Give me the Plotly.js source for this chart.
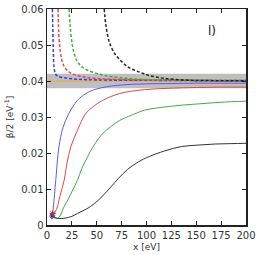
<!DOCTYPE html>
<html><head><meta charset="utf-8">
<script src="https://cdn.plot.ly/plotly-3.0.1.min.js"></script>
<style>html,body{margin:0;padding:0;background:#fff}#c{width:262px;height:255px}</style>
</head><body><div id="c"></div>
<script>
// solid curves
const blueX = [4.6, 5.2, 6.4, 8.8, 12, 16, 22, 30.6, 39, 47.5, 60, 75, 98, 125, 150, 175, 200];
const blueY = [0.0016, 0.0025, 0.005, 0.0124, 0.0217, 0.027, 0.031, 0.0346, 0.0365, 0.0376, 0.0384, 0.0389, 0.0392, 0.0393, 0.0394, 0.0394, 0.0394];
const redX = [5.5, 7, 8.5, 10.4, 13, 17.2, 20, 23.9, 30.6, 39, 47, 55.9, 72.7, 98, 125, 150, 175, 200];
const redY = [0.0032, 0.0032, 0.0038, 0.005, 0.008, 0.0124, 0.017, 0.0217, 0.0263, 0.031, 0.033, 0.0346, 0.0365, 0.0376, 0.038, 0.0382, 0.0383, 0.0383];
const greenX = [6.5, 8, 10, 13, 17, 22, 26, 30.6, 35, 40.7, 48, 55.9, 65, 72.7, 85, 98, 125, 150, 175, 200];
const greenY = [0.0025, 0.002, 0.0018, 0.0025, 0.005, 0.0075, 0.0098, 0.0124, 0.0157, 0.0189, 0.0225, 0.0254, 0.0275, 0.029, 0.0305, 0.0319, 0.033, 0.0336, 0.0341, 0.0344];
const blackX = [5, 8, 12, 18, 25, 30.6, 40, 47.5, 55, 64.3, 72, 81.2, 90, 100, 118.5, 135.4, 152, 169, 185, 200];
const blackY = [0.003, 0.0021, 0.0018, 0.0019, 0.0024, 0.0032, 0.0045, 0.0059, 0.0078, 0.0106, 0.013, 0.0155, 0.0172, 0.0187, 0.0206, 0.0218, 0.0222, 0.0225, 0.0226, 0.0227];
// dashed curves
const blueDX = [5.4, 5.8, 6.2, 6.6, 7.2, 8.5, 10.4, 15, 20, 30.6, 50, 100, 150, 200];
const blueDY = [0.06, 0.055, 0.05, 0.046, 0.0435, 0.042, 0.0414, 0.041, 0.0408, 0.0405, 0.0403, 0.0402, 0.0401, 0.0401];
const redDX = [11.1, 12.1, 13.5, 15.5, 18, 22.2, 28, 37.4, 50, 64.3, 100, 150, 200];
const redDY = [0.06, 0.0518, 0.048, 0.0453, 0.0437, 0.0425, 0.0417, 0.0411, 0.0407, 0.0405, 0.0403, 0.0402, 0.0401];
const greenDX = [22.2, 23.2, 25.5, 28, 30.6, 35, 40.7, 54.2, 65, 81.2, 100, 130, 160, 200];
const greenDY = [0.06, 0.0555, 0.0499, 0.047, 0.0453, 0.044, 0.043, 0.0418, 0.0412, 0.0407, 0.0404, 0.0403, 0.0402, 0.0402];
const blackDX = [57.5, 59.2, 62.6, 66, 69.4, 75, 81.2, 88, 94.7, 101.7, 118.5, 143.6, 170, 200];
const blackDY = [0.06, 0.0555, 0.0508, 0.0486, 0.0471, 0.0454, 0.0439, 0.043, 0.0423, 0.0416, 0.0407, 0.0402, 0.0401, 0.0401];
// reference band and line
const bandX = [0, 200];
const bandLow = [0.038, 0.038];
const bandHigh = [0.042, 0.042];
const refY = [0.04, 0.04];
// start markers
const markX = [5.2, 5.8];
const markY = [0.0025, 0.0032];
const xTicks = [0, 25, 50, 75, 100, 125, 150, 175, 200];
const yTicks = [0, 0.01, 0.02, 0.03, 0.04, 0.05, 0.06];
const yTickText = ['0', '0.01', '0.02', '0.03', '0.04', '0.05', '0.06'];

const C = {blue:'#5b5bf0', red:'#e04848', green:'#3fae3f', black:'#333333'};
const traces = [
  {x: bandX, y: bandLow, mode:'lines', line:{width:0}, hoverinfo:'skip'},
  {x: bandX, y: bandHigh, mode:'lines', line:{width:0}, fill:'tonexty', fillcolor:'rgba(170,170,170,0.75)', hoverinfo:'skip'},
  {x: bandX, y: refY, mode:'lines', line:{color:'#f0a830', width:1}},
  {x: blueX, y: blueY, mode:'lines', line:{color:C.blue, width:1, shape:'spline'}},
  {x: redX, y: redY, mode:'lines', line:{color:C.red, width:1, shape:'spline'}},
  {x: greenX, y: greenY, mode:'lines', line:{color:C.green, width:1, shape:'spline'}},
  {x: blackX, y: blackY, mode:'lines', line:{color:C.black, width:1, shape:'spline'}},
  {x: blueDX, y: blueDY, mode:'lines', line:{color:'#3a3ae0', width:1.5, dash:'3px,2px', shape:'spline'}},
  {x: redDX, y: redDY, mode:'lines', line:{color:C.red, width:1.5, dash:'3px,2px', shape:'spline'}},
  {x: greenDX, y: greenDY, mode:'lines', line:{color:C.green, width:1.5, dash:'3px,2px', shape:'spline'}},
  {x: blackDX, y: blackDY, mode:'lines', line:{color:'#222', width:1.5, dash:'3px,2px', shape:'spline'}},
  {x: markX, y: markY, mode:'markers', marker:{symbol:'asterisk-open', size:5, color:['#2a2aa0','#b03030'], line:{width:1, color:['#2a2aa0','#b03030']}}}
];
const font = {family:'DejaVu Sans, sans-serif', size:10, color:'#333'};
const layout = {
  width:262, height:255,
  margin:{l:47, r:16, t:9, b:30},
  showlegend:false,
  paper_bgcolor:'#fff', plot_bgcolor:'#fff',
  font: font,
  xaxis:{range:[0,200], tickvals:xTicks, ticks:'inside', ticklen:4, tickcolor:'#222', mirror:'ticks', showline:true, linecolor:'#222', linewidth:1.5, showgrid:false, zeroline:false,
    title:{text:'x [eV]', font:{family:'DejaVu Sans, sans-serif', size:9, color:'#333'}, standoff:4}, tickfont:font},
  yaxis:{range:[0,0.06], tickvals:yTicks, ticktext:yTickText, ticks:'inside', ticklen:4, tickcolor:'#222', mirror:'ticks', showline:true, linecolor:'#222', linewidth:1.5, showgrid:false, zeroline:false,
    title:{text:'β/2 [eV<sup>-1</sup>]', font:{family:'DejaVu Sans, sans-serif', size:9, color:'#333'}, standoff:6}, tickfont:font},
  annotations:[{x:0.86, y:0.94, xref:'paper', yref:'paper', text:'l)', showarrow:false, font:{family:'DejaVu Sans, sans-serif', size:12, color:'#111'}}]
};
Plotly.newPlot('c', traces, layout, {staticPlot:true, displayModeBar:false});
</script></body></html>
